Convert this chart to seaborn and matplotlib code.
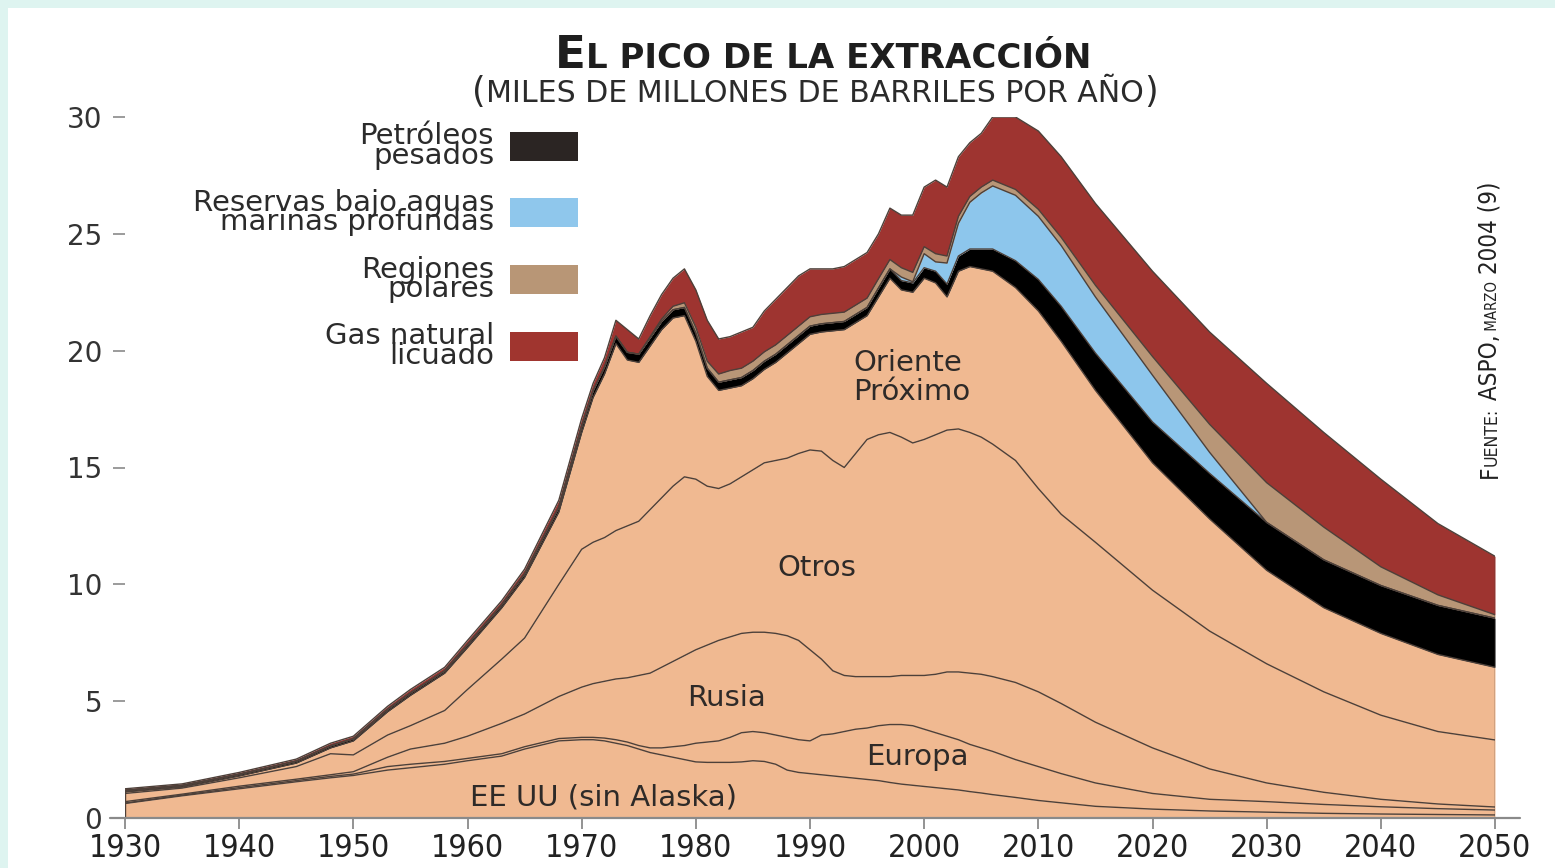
import numpy as np
import pandas as pd
import matplotlib
matplotlib.use("Agg")
import matplotlib.pyplot as plt
import seaborn as sns
from matplotlib import font_manager
from matplotlib.patches import Rectangle
from matplotlib.transforms import IdentityTransform

# miles de millones de barriles por año (capas apiladas)
anios = [1930, 1935, 1940, 1945, 1948, 1950, 1953, 1955, 1958, 1960,
         1963, 1965, 1968, 1970, 1971, 1972, 1973, 1974, 1975, 1976,
         1977, 1978, 1979, 1980, 1981, 1982, 1983, 1984, 1985, 1986,
         1987, 1988, 1989, 1990, 1991, 1992, 1993, 1994, 1995, 1996,
         1997, 1998, 1999, 2000, 2001, 2002, 2003, 2004, 2005, 2006,
         2008, 2010, 2012, 2015, 2020, 2025, 2030, 2035, 2040, 2045,
         2050]

eeuu = [0.62, 0.95, 1.25, 1.55, 1.72, 1.82, 2.05, 2.15, 2.30, 2.45,
        2.65, 2.95, 3.30, 3.35, 3.35, 3.30, 3.20, 3.10, 2.95, 2.80,
        2.70, 2.60, 2.50, 2.40, 2.38, 2.38, 2.38, 2.40, 2.45, 2.42,
        2.30, 2.05, 1.95, 1.90, 1.85, 1.80, 1.75, 1.70, 1.65, 1.60,
        1.52, 1.45, 1.40, 1.35, 1.30, 1.25, 1.20, 1.13, 1.07, 1.00,
        0.88, 0.75, 0.65, 0.50, 0.38, 0.30, 0.25, 0.20, 0.17, 0.15,
        0.13]

europa = [0.02, 0.03, 0.05, 0.05, 0.06, 0.06, 0.15, 0.15, 0.12, 0.10,
          0.10, 0.10, 0.10, 0.10, 0.10, 0.12, 0.15, 0.15, 0.15, 0.20,
          0.30, 0.45, 0.60, 0.80, 0.87, 0.92, 1.07, 1.25, 1.25, 1.23,
          1.25, 1.40, 1.40, 1.40, 1.70, 1.80, 1.95, 2.10, 2.20, 2.35,
          2.48, 2.55, 2.55, 2.45, 2.35, 2.25, 2.15, 2.02, 1.93, 1.85,
          1.62, 1.45, 1.25, 1.00, 0.67, 0.50, 0.45, 0.38, 0.31, 0.25,
          0.21]

rusia = [0.06, 0.04, 0.06, 0.06, 0.07, 0.10, 0.40, 0.65, 0.78, 0.95,
         1.30, 1.40, 1.80, 2.15, 2.30, 2.43, 2.60, 2.75, 3.00, 3.20,
         3.45, 3.65, 3.85, 4.00, 4.15, 4.30, 4.30, 4.25, 4.25, 4.30,
         4.35, 4.35, 4.25, 3.90, 3.25, 2.70, 2.40, 2.25, 2.20, 2.10,
         2.05, 2.10, 2.15, 2.30, 2.50, 2.75, 2.90, 3.05, 3.15, 3.20,
         3.30, 3.20, 3.00, 2.60, 1.95, 1.30, 0.80, 0.52, 0.32, 0.20,
         0.13]

otros = [0.35, 0.26, 0.36, 0.54, 0.90, 0.72, 0.95, 1.00, 1.40, 2.00,
         2.75, 3.25, 4.80, 5.90, 6.05, 6.15, 6.35, 6.50, 6.60, 7.00,
         7.25, 7.50, 7.65, 7.30, 6.80, 6.50, 6.55, 6.70, 6.95, 7.25,
         7.40, 7.60, 8.00, 8.55, 8.90, 9.00, 8.90, 9.55, 10.15, 10.35,
         10.45, 10.20, 9.95, 10.10, 10.25, 10.35, 10.40, 10.30, 10.15, 9.95,
         9.50, 8.70, 8.10, 7.70, 6.75, 5.90, 5.10, 4.30, 3.60, 3.10,
         2.87]

oriente_proximo = [0.07, 0.05, 0.08, 0.15, 0.25, 0.60, 1.00, 1.30, 1.60, 1.80,
                   2.20, 2.60, 3.10, 5.00, 6.20, 7.00, 8.00, 7.10, 6.80, 7.00,
                   7.20, 7.20, 6.90, 5.90, 4.70, 4.20, 4.10, 3.90, 3.90, 4.00,
                   4.20, 4.50, 4.70, 4.95, 5.10, 5.55, 5.90, 5.60, 5.30, 5.90,
                   6.60, 6.30, 6.45, 6.90, 6.50, 5.70, 6.75, 7.10, 7.20, 7.40,
                   7.40, 7.60, 7.40, 6.50, 5.45, 4.80, 4.00, 3.60, 3.50, 3.30,
                   3.11]

pesados = [0.06, 0.06, 0.07, 0.08, 0.09, 0.09, 0.10, 0.10, 0.10, 0.12,
           0.13, 0.15, 0.20, 0.25, 0.28, 0.30, 0.32, 0.33, 0.35, 0.35,
           0.35, 0.35, 0.35, 0.35, 0.35, 0.35, 0.35, 0.35, 0.35, 0.35,
           0.35, 0.35, 0.35, 0.35, 0.35, 0.35, 0.35, 0.35, 0.35, 0.38,
           0.40, 0.40, 0.40, 0.45, 0.50, 0.55, 0.65, 0.75, 0.85, 0.95,
           1.15, 1.35, 1.50, 1.60, 1.75, 1.95, 2.05, 2.05, 2.05, 2.10,
           2.10]

aguas_profundas = [0.00, 0.00, 0.00, 0.00, 0.00, 0.00, 0.00, 0.00, 0.00, 0.00,
                   0.00, 0.00, 0.00, 0.00, 0.00, 0.00, 0.00, 0.00, 0.00, 0.00,
                   0.00, 0.00, 0.00, 0.00, 0.00, 0.00, 0.00, 0.00, 0.00, 0.00,
                   0.00, 0.00, 0.00, 0.00, 0.00, 0.00, 0.00, 0.00, 0.00, 0.00,
                   0.00, 0.15, 0.05, 0.60, 0.40, 0.90, 1.40, 2.00, 2.40, 2.70,
                   2.80, 2.70, 2.60, 2.40, 2.00, 0.90, 0.00, 0.00, 0.00, 0.00,
                   0.00]

polares = [0.00, 0.00, 0.00, 0.00, 0.00, 0.00, 0.00, 0.00, 0.00, 0.00,
           0.00, 0.00, 0.00, 0.00, 0.00, 0.00, 0.00, 0.00, 0.00, 0.05,
           0.10, 0.15, 0.20, 0.25, 0.30, 0.35, 0.40, 0.40, 0.40, 0.40,
           0.40, 0.40, 0.40, 0.40, 0.40, 0.40, 0.40, 0.40, 0.40, 0.40,
           0.40, 0.40, 0.40, 0.30, 0.35, 0.30, 0.30, 0.25, 0.25, 0.25,
           0.25, 0.30, 0.35, 0.50, 0.80, 1.20, 1.70, 1.40, 0.80, 0.45,
           0.15]

gas_licuado = [0.07, 0.07, 0.08, 0.09, 0.11, 0.11, 0.13, 0.15, 0.15, 0.18,
               0.17, 0.20, 0.30, 0.35, 0.32, 0.40, 0.68, 0.97, 0.65, 0.90,
               1.05, 1.20, 1.45, 1.60, 1.75, 1.50, 1.45, 1.55, 1.45, 1.75,
               1.95, 2.05, 2.15, 2.05, 1.95, 1.90, 1.95, 1.95, 1.95, 1.92,
               2.20, 2.25, 2.45, 2.55, 3.15, 2.95, 2.55, 2.30, 2.30, 2.70,
               3.10, 3.35, 3.45, 3.50, 3.65, 3.95, 4.25, 4.05, 3.75, 3.05,
               2.50]

regiones = ['EE UU (sin Alaska)', 'Europa', 'Rusia', 'Otros', 'Oriente\nPróximo']
leyenda = ['Petróleos\npesados', 'Reservas bajo aguas\nmarinas profundas',
           'Regiones\npolares', 'Gas natural\nlicuado']

SALMON = '#f0b991'
COLOR_CAPAS = [SALMON] * 5 + ['#000000', '#8dc6ec', '#b89677', '#9e3430']
COLOR_MUESTRA = ['#2b2523', '#8fc7ec', '#b89676', '#a0352f']
BORDE = '#4d4039'

sns.set_theme(style="white")
plt.rcParams['font.family'] = ['DejaVu Sans']


def fuente_estrecha():
    # primera fuente condensada que haya instalada; si no, Liberation Sans
    for f in font_manager.fontManager.ttflist:
        estrecha = ('Narrow' in f.name or 'Condensed' in f.name
                    or str(f.stretch) in ('condensed', 'semi-condensed', 'extra-condensed'))
        if estrecha and str(f.weight) in ('400', 'normal', 'regular', 'book') and f.style == 'normal':
            return font_manager.FontProperties(fname=f.fname)
    return font_manager.FontProperties(family='Liberation Sans')


fp_estrecha = fuente_estrecha()

W, H = 1555, 868
fig = plt.figure(figsize=(W / 100, H / 100), dpi=100, facecolor='#def4f0')
fig.add_artist(Rectangle((8, 0), W - 8, H - 8, transform=IdentityTransform(),
                         facecolor='white', edgecolor='none', zorder=-5))

ax = fig.add_axes([125 / W, 50 / H, 1370 / W, 701 / H])
ax.set_facecolor('white')

capas = [eeuu, europa, rusia, otros, oriente_proximo,
         pesados, aguas_profundas, polares, gas_licuado]
ax.stackplot(anios, *capas, colors=COLOR_CAPAS, linewidth=0)

# contornos de cada capa
topes = np.cumsum(np.array(capas), axis=0)
bordes = pd.DataFrame({
    'anio': np.tile(anios, len(capas)),
    'tope': topes.ravel(),
    'capa': np.repeat(np.arange(len(capas)), len(anios)),
})
sns.lineplot(data=bordes, x='anio', y='tope', units='capa', estimator=None,
             color=BORDE, linewidth=1.0, ax=ax, legend=False)
ax.vlines([anios[0], anios[-1]], 0, [topes[-1][0], topes[-1][-1]], color=BORDE, lw=1.0)

ax.set_xlim(1930, 2050)
ax.set_ylim(0, 30)
ax.set(xlabel='', ylabel='')
for s in ax.spines.values():
    s.set_visible(False)
ax.axhline(0, -0.011, 1.018, color='#8a8a8a', lw=1.6, clip_on=False, zorder=5)

ax.set_xticks(range(1930, 2051, 10))
ax.set_yticks(range(0, 31, 5))
ax.tick_params(axis='x', bottom=True, direction='out', length=8, width=1.3,
               color='#8a8a8a', pad=3, labelcolor='#222222')
ax.tick_params(axis='y', left=True, direction='out', length=8.5, width=1.2,
               color='#8a8a8a', pad=8, labelsize=20, labelcolor='#333333')
for t in ax.get_xticklabels():
    fp = fp_estrecha.copy()
    fp.set_size(23)
    t.set_fontproperties(fp)

# nombres de las regiones dentro del área
pos_regiones = [(1971.9, 0.86), (1999.4, 2.61), (1982.7, 5.13), (1990.6, 10.7), (1998.9, 18.87)]
for texto, (x, y) in zip(regiones, pos_regiones):
    ax.text(x, y, texto, fontsize=21, color='#2e2a28', ha='center', va='center',
            multialignment='left' if '\n' in texto else 'center', linespacing=1.05)

# leyenda: texto alineado a la derecha y muestra de color
centros = [722, 655.5, 588.5, 522]
for texto, color, yc in zip(leyenda, COLOR_MUESTRA, centros):
    fig.text(494, yc, texto, transform=IdentityTransform(), fontsize=21, color='#2b2b2b',
             ha='right', va='center', multialignment='right', linespacing=0.63)
    fig.add_artist(Rectangle((510, yc - 14.5), 68, 29, transform=IdentityTransform(),
                             facecolor=color, edgecolor='none'))


def linea_piezas(piezas, x, y, largo, rot=0, centrado=True, fp=None, **estilo):
    r = fig.canvas.get_renderer()
    objs = []
    for t, tam in piezas:
        o = fig.text(0, 0, t, rotation=rot, rotation_mode='anchor', ha='left',
                     va='baseline', transform=IdentityTransform(), **estilo)
        if fp is not None:
            o.set_fontproperties(fp)
        o.set_fontsize(tam)
        objs.append(o)

    def medir():
        return [o.get_window_extent(r).height if rot else o.get_window_extent(r).width
                for o in objs]

    f = largo / sum(medir())
    for o, (t, tam) in zip(objs, piezas):
        o.set_fontsize(tam * f)
    tramos = medir()
    pos = (y if rot else x) - (sum(tramos) / 2 if centrado else 0)
    for o, d in zip(objs, tramos):
        o.set_position((x, pos) if rot else (pos, y))
        pos += d


linea_piezas([('E', 30), ('L PICO DE LA EXTRACCIÓN', 22.5)], 823, H - 68.5, 535,
             fontweight='bold', color='#1e1e1e')
linea_piezas([('(', 21), ('MILES DE MILLONES DE BARRILES POR AÑO', 18), (')', 21)],
             815, H - 102, 688, color='#2b2b2b')
linea_piezas([('F', 26), ('UENTE:', 19), (' ASPO,', 26), (' MARZO', 16), (' 2004 (9)', 26)],
             1497, H - 478, 298, rot=90, centrado=False, fp=fp_estrecha, color='#222222')

fig.savefig('out.png', dpi=100, facecolor=fig.get_facecolor())
